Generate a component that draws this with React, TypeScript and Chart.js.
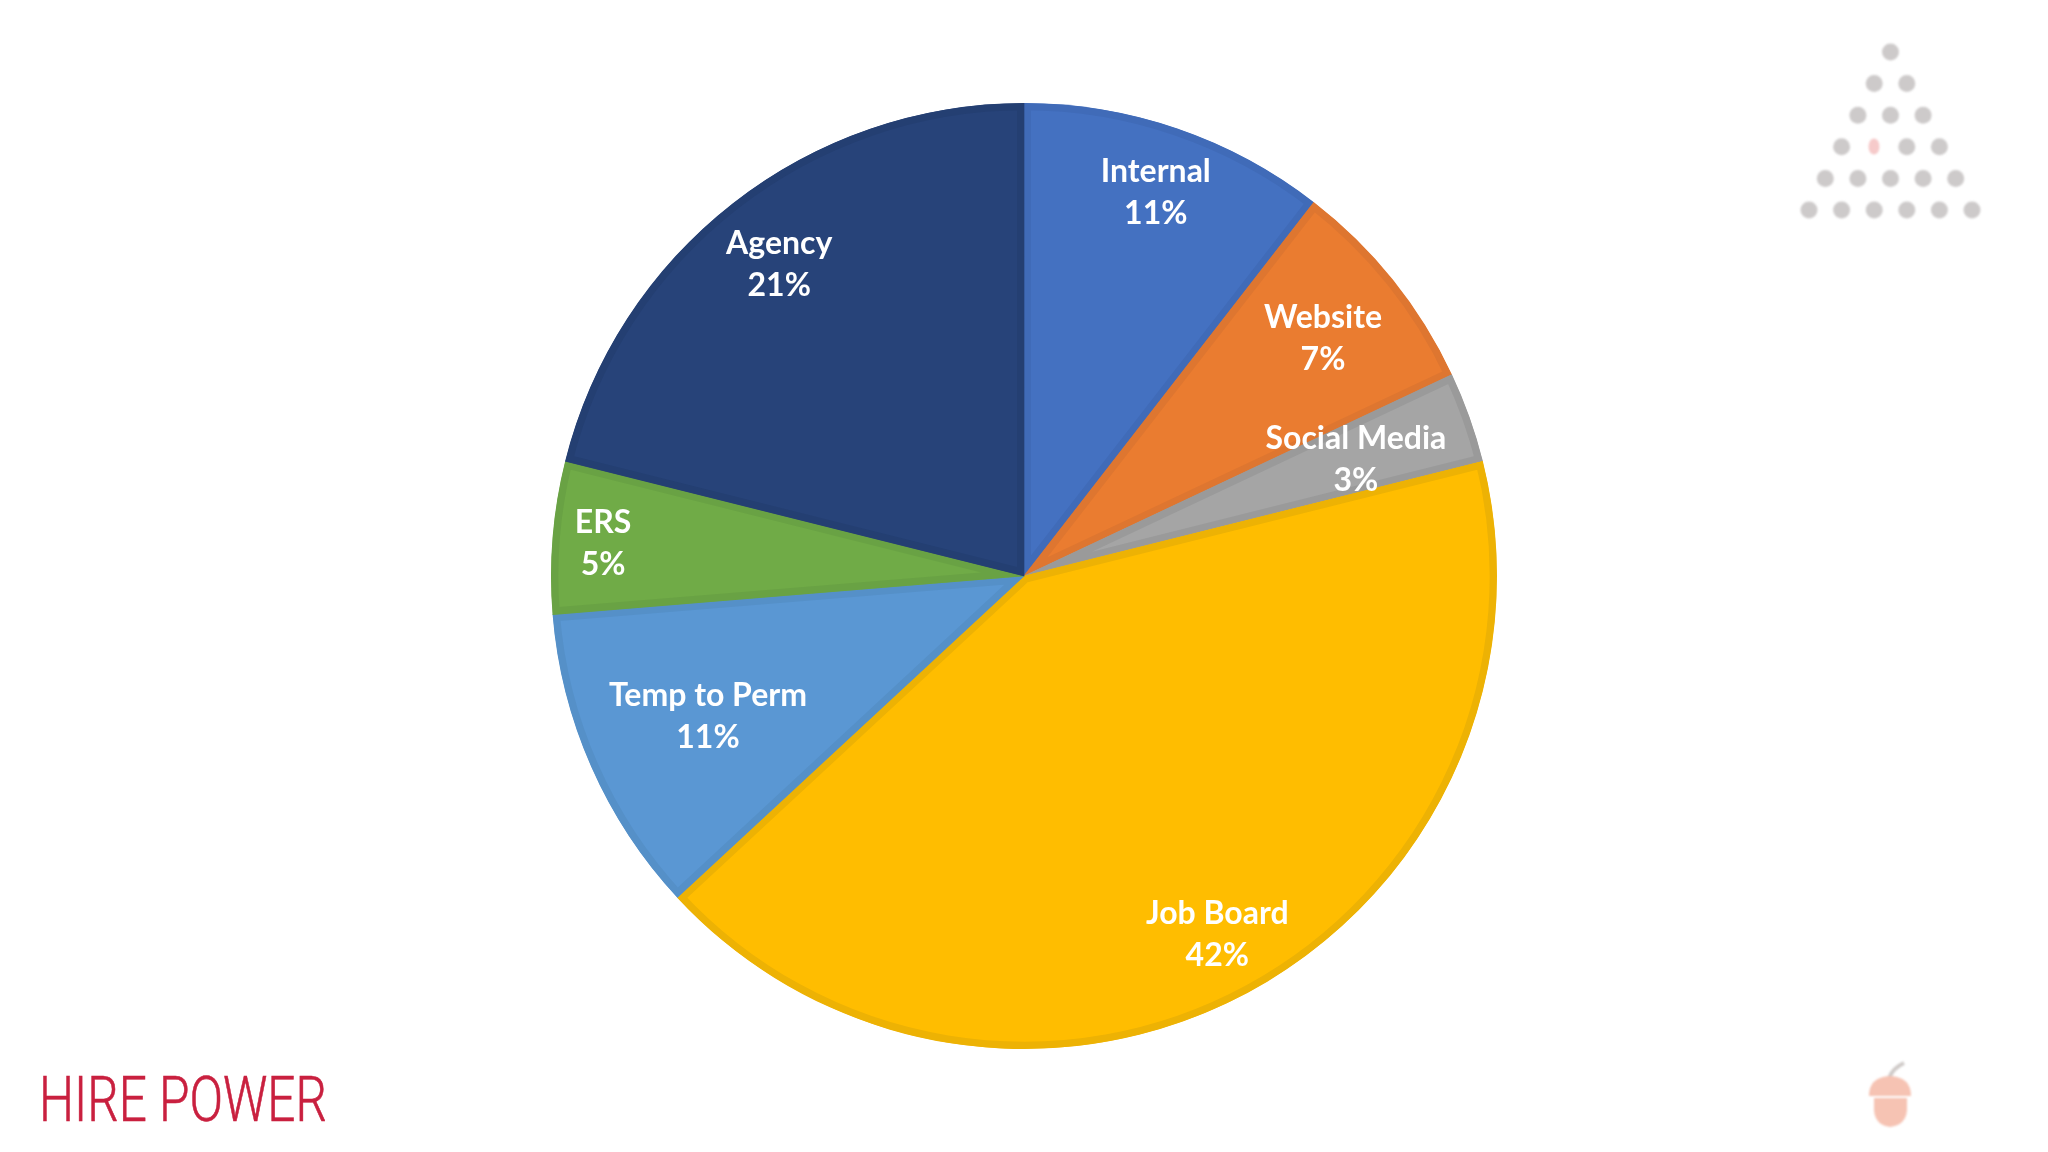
import { useEffect, useRef } from "react";
import { Chart, registerables } from "chart.js";

Chart.register(...registerables);

const categories = ["Internal", "Website", "Social Media", "Job Board", "Temp to Perm", "ERS", "Agency"];
// slice sizes (the printed percentages are rounded differently)
const sliceValues = [10.5, 7.5, 3.1, 42.0, 10.6, 5.2, 21.1];
const percentLabels = ["11%", "7%", "3%", "42%", "11%", "5%", "21%"];

const fillColors = ["#4471C1", "#EA7C30", "#A5A5A5", "#FFBD00", "#5A97D3", "#70AB47", "#274379"];
const borderColors = ["#406BB8", "#DE7630", "#9A9A9A", "#EDB204", "#5590C8", "#69A244", "#243F72"];

// where each label sits inside its slice, as a share of the radius
const labelRadius = [0.86, 0.81, 0.745, 0.858, 0.73, 0.893, 0.841];

const dotRows = [1, 2, 3, 4, 5, 6];

const sliceLabels = {
  id: "sliceLabels",
  afterDatasetsDraw(chart: any) {
    const { ctx } = chart;
    const arcs = chart.getDatasetMeta(0).data;
    ctx.save();
    ctx.fillStyle = "#FFFFFF";
    ctx.font = "700 32px Lato";
    ctx.textAlign = "center";
    ctx.textBaseline = "middle";
    arcs.forEach((arc: any, i: number) => {
      const { x, y, startAngle, endAngle, outerRadius } = arc.getProps(["x", "y", "startAngle", "endAngle", "outerRadius"]);
      const mid = (startAngle + endAngle) / 2;
      const r = outerRadius * labelRadius[i];
      const cx = x + Math.cos(mid) * r;
      const cy = y + Math.sin(mid) * r + 2;
      ctx.fillText(categories[i], cx, cy - 21);
      ctx.fillText(percentLabels[i], cx, cy + 21);
    });
    ctx.restore();
  },
};

const App = () => {
  const canvasRef = useRef<HTMLCanvasElement | null>(null);

  useEffect(() => {
    if (!canvasRef.current) return;
    const chart = new Chart(canvasRef.current, {
      type: "pie",
      data: {
        labels: categories,
        datasets: [
          {
            data: sliceValues,
            backgroundColor: fillColors,
            borderColor: borderColors,
            borderWidth: 7,
            borderAlign: "inner",
            radius: 473,
          },
        ],
      },
      options: {
        responsive: false,
        animation: false,
        layout: { padding: { bottom: 0 } },
        plugins: { legend: { display: false }, tooltip: { enabled: false } },
      },
      plugins: [sliceLabels],
    } as any);
    return () => chart.destroy();
  }, []);

  return (
    <div style={{ position: "absolute", left: 0, top: 0, width: 2048, height: 1152, background: "#fff", overflow: "hidden" }}>
      <canvas ref={canvasRef} width={2048} height={1152} style={{ position: "absolute", left: 0, top: 0 }} />
      <svg width={2048} height={1152} style={{ position: "absolute", left: 0, top: 0 }}>
        <g style={{ filter: "blur(0.8px)" }}>
          {dotRows.map((count, row) =>
            Array.from({ length: count }, (_, i) =>
              row === 3 && i === 1 ? (
                <ellipse key={`${row}-${i}`} cx={1874} cy={146.5} rx={5.5} ry={8} fill="#F6CACA" />
              ) : (
                <circle
                  key={`${row}-${i}`}
                  cx={1890.5 + (i - (count - 1) / 2) * 32.6}
                  cy={52 + row * 31.6}
                  r={8.5}
                  fill="#CDCACA"
                />
              )
            )
          )}
          <path d="M1889 1078 Q1893 1068 1904 1063" stroke="#CFCAC8" strokeWidth={4} fill="none" />
          <path d="M1869 1096 Q1869 1077 1890 1076 Q1911 1077 1911 1096 Z" fill="#F6C3B3" />
          <path d="M1874 1098 L1907 1098 L1907 1110 Q1906 1125 1890 1127 Q1875 1125 1874 1110 Z" fill="#F6C3B3" />
        </g>
        <text
          x={39}
          y={1121}
          textLength={288}
          lengthAdjust="spacingAndGlyphs"
          fontFamily="Roboto"
          fontWeight={300}
          fontSize={63}
          fill="#C9203F"
          stroke="#C9203F"
          strokeWidth={0.6}
        >
          HIRE POWER
        </text>
      </svg>
    </div>
  );
};

export default App;
